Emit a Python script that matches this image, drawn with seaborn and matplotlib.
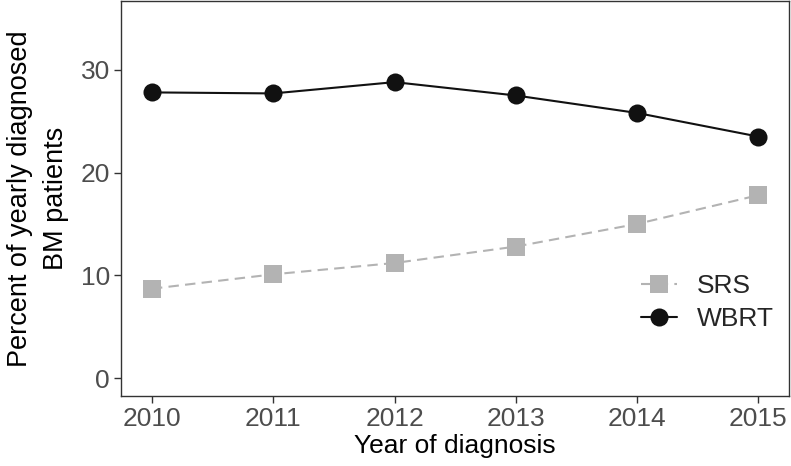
import matplotlib
matplotlib.use("Agg")
import matplotlib.pyplot as plt
import seaborn as sns
import pandas as pd

years = [2010, 2011, 2012, 2013, 2014, 2015]
wbrt = [27.8, 27.7, 28.8, 27.5, 25.8, 23.5]
srs = [8.7, 10.1, 11.2, 12.8, 15.0, 17.8]

df = pd.DataFrame({
    "year": years * 2,
    "pct": srs + wbrt,
    "group": ["SRS"] * 6 + ["WBRT"] * 6,
})

sns.set_style("white")
plt.rcParams["font.family"] = ["Liberation Sans", "DejaVu Sans"]

fig = plt.figure(figsize=(7.91, 4.66), dpi=100)
ax = fig.add_axes([0.153, 0.150, 0.845, 0.848])

sns.lineplot(data=df, x="year", y="pct", hue="group", style="group",
             palette={"SRS": "#b3b3b3", "WBRT": "#111111"},
             markers={"SRS": "s", "WBRT": "o"},
             dashes={"SRS": (5, 3), "WBRT": ""},
             markersize=13, linewidth=1.5, markeredgewidth=0, ax=ax)

ax.set_xlim(2009.745, 2015.256)
ax.set_ylim(-1.75, 36.7)
ax.set_yticks([0, 10, 20, 30])
ax.set_xticks(years)
ax.tick_params(axis="both", labelsize=19, labelcolor="#4d4d4d", length=5,
               width=1, color="#333333", direction="out", bottom=True, left=True,
               pad=3)
ax.set_xlabel("Year of diagnosis", fontsize=19, color="black", labelpad=2)
ax.set_ylabel("Percent of yearly diagnosed\nBM patients", fontsize=19.5,
              color="black", labelpad=8, linespacing=1.5)
for s in ax.spines.values():
    s.set_color("#333333")
    s.set_linewidth(1)

leg = ax.legend(loc="center right", bbox_to_anchor=(1.012, 0.237), frameon=False,
                fontsize=19, handlelength=1.35, labelspacing=0.35, title=None,
                handletextpad=0.75)

fig.savefig("out.png", dpi=100)
